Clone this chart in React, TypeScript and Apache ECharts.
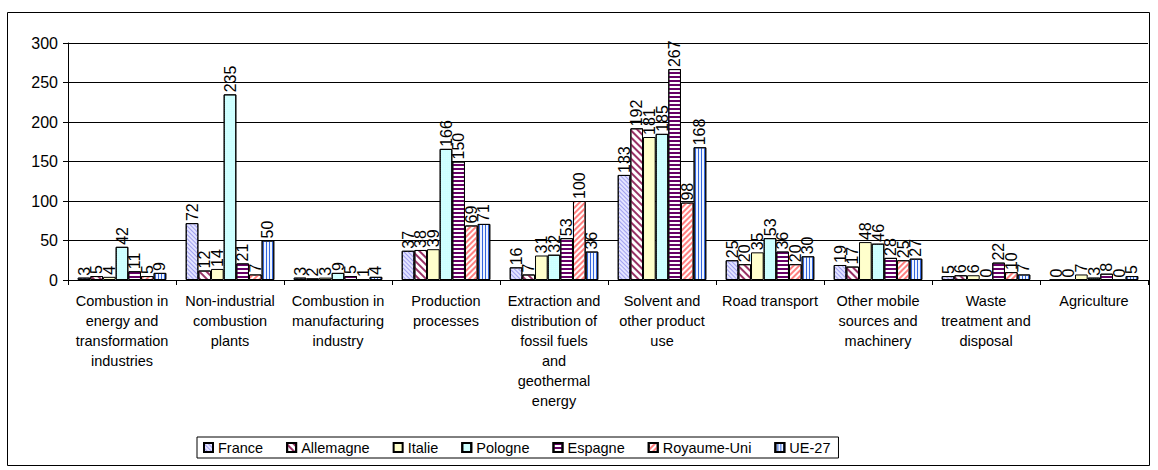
import React, { useEffect, useRef } from "react";
import * as echarts from "echarts";

const categories = [
  "Combustion in\nenergy and\ntransformation\nindustries",
  "Non-industrial\ncombustion\nplants",
  "Combustion in\nmanufacturing\nindustry",
  "Production\nprocesses",
  "Extraction and\ndistribution of\nfossil fuels\nand\ngeothermal\nenergy",
  "Solvent and\nother product\nuse",
  "Road transport",
  "Other mobile\nsources and\nmachinery",
  "Waste\ntreatment and\ndisposal",
  "Agriculture",
];

const seriesNames = ["France", "Allemagne", "Italie", "Pologne", "Espagne", "Royaume-Uni", "UE-27"];

const france = [3, 72, 3, 37, 16, 133, 25, 19, 5, 0];
const allemagne = [5, 12, 2, 38, 7, 192, 20, 17, 6, 0];
const italie = [4, 14, 3, 39, 31, 181, 35, 48, 6, 7];
const pologne = [42, 235, 9, 166, 32, 185, 53, 46, 0, 3];
const espagne = [11, 21, 5, 150, 53, 267, 36, 28, 22, 8];
const royaumeUni = [5, 7, 1, 69, 100, 98, 20, 25, 10, 0];
const ue27 = [9, 50, 4, 71, 36, 168, 30, 27, 7, 5];

const yMin = 0;
const yMax = 300;
const yInterval = 50;

const FONT = "'Liberation Sans', Arial, sans-serif";

const styles: any[] = [
  { color: "#E4E4FF", decal: { symbol: "rect", color: "#A0A0F0", dashArrayX: [1, 0], dashArrayY: [1, 2], rotation: Math.PI / 4 } },
  { color: "#FFFFFF", decal: { symbol: "rect", color: "#993366", dashArrayX: [1, 0], dashArrayY: [2, 3], rotation: Math.PI / 4 } },
  { color: "#FFFFCC" },
  { color: "#CCFFFF", decal: { symbol: "rect", symbolSize: 0.6, color: "#E8FFFF", dashArrayX: [1, 1], dashArrayY: [1, 1] } },
  { color: "#FFFFFF", decal: { symbol: "rect", color: "#660066", dashArrayX: [1, 0], dashArrayY: [2, 2], rotation: 0 } },
  { color: "#FFFFFF", decal: { symbol: "rect", color: "#FF8080", dashArrayX: [1, 0], dashArrayY: [2, 2], rotation: -Math.PI / 4 } },
  { color: "#EEF4FF", decal: { symbol: "rect", color: "#3366DD", dashArrayX: [1, 0], dashArrayY: [1, 2], rotation: Math.PI / 2 } },
];

const seriesData = [france, allemagne, italie, pologne, espagne, royaumeUni, ue27];

export default function App() {
  const ref = useRef<HTMLDivElement>(null);
  useEffect(() => {
    if (!ref.current) return;
    const chart = echarts.init(ref.current, undefined, { renderer: "svg" });
    const option: any = {
      animation: false,
      backgroundColor: "#FFFFFF",
      textStyle: { fontFamily: FONT },
      graphic: [
        {
          type: "rect",
          silent: true,
          shape: { x: 7.5, y: 12.5, width: 1142, height: 453 },
          style: { fill: "none", stroke: "#000", lineWidth: 1 },
        },
      ],
      grid: { left: 68, right: 10, top: 43, bottom: 190, containLabel: false },
      legend: {
        left: 197,
        top: 437,
        data: seriesNames,
        itemWidth: 9,
        itemHeight: 9,
        itemGap: 23,
        padding: [3, 8, 3, 6],
        borderColor: "#000",
        borderWidth: 1,
        textStyle: { fontSize: 14.5, color: "#000", fontFamily: FONT },
        icon: "rect",
      },
      xAxis: {
        type: "category",
        data: categories,
        axisLine: { lineStyle: { color: "#000", width: 1 } },
        axisTick: { show: true, length: 5, lineStyle: { color: "#000" } },
        axisLabel: {
          interval: 0,
          color: "#000",
          fontSize: 14.5,
          lineHeight: 20,
          margin: 11,
          fontFamily: FONT,
          align: "center",
        },
      },
      yAxis: {
        type: "value",
        min: yMin,
        max: yMax,
        interval: yInterval,
        axisLine: { show: true, lineStyle: { color: "#000", width: 1 } },
        axisTick: { show: true, length: 5, lineStyle: { color: "#000" } },
        axisLabel: { color: "#000", fontSize: 16, margin: 10, fontFamily: FONT },
        splitLine: { show: true, lineStyle: { color: "#000", width: 1 } },
      },
      series: seriesNames.map((name, i) => ({
        name,
        type: "bar",
        data: seriesData[i],
        barGap: "0%",
        barCategoryGap: "18%",
        itemStyle: { ...styles[i], borderColor: "#000", borderWidth: 1 },
        label: {
          show: true,
          position: "top",
          rotate: 90,
          align: "left",
          verticalAlign: "middle",
          distance: 2,
          fontSize: 16,
          color: "#000",
          fontFamily: FONT,
        },
      })),
    };
    chart.setOption(option);
    return () => chart.dispose();
  }, []);
  return (
    <div
      ref={ref}
      style={{ position: "fixed", left: 0, top: 0, width: 1158, height: 470 }}
    />
  );
}
